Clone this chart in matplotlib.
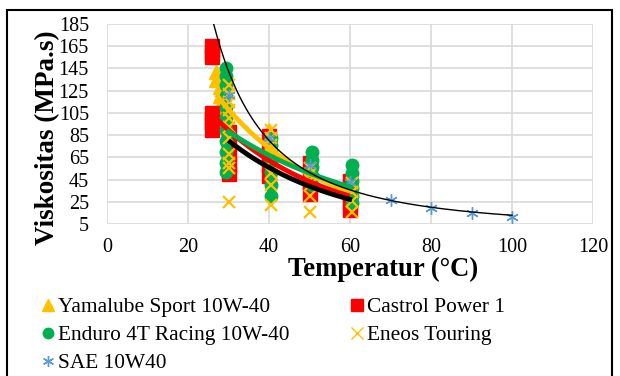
import numpy as np
import matplotlib.pyplot as plt
from matplotlib.lines import Line2D
from matplotlib.patches import Rectangle

plt.rcParams['font.family'] = ['Liberation Serif', 'DejaVu Serif']

# Yamalube Sport 10W-40 (segitiga kuning)
yam_t = [27, 27, 28, 28, 28, 29, 29, 30, 40, 40, 40, 40, 40, 50, 50, 50, 50, 60, 60, 60, 60, 60]
yam_v = [142, 135, 128, 120, 112, 104, 96, 88, 90, 82, 75, 68, 60, 62, 55, 48, 42, 46, 40, 34, 28, 24]

# Castrol Power 1 (kotak merah)
cas_t = [26, 26, 26, 26, 26, 26, 26, 30, 30, 30, 30, 30, 40, 40, 40, 40, 40, 50, 50, 50, 50, 60, 60, 60, 60, 60]
cas_v = [165, 160, 155, 105, 100, 95, 90, 88, 78, 68, 58, 50, 84, 76, 68, 58, 48, 60, 52, 42, 32, 44, 38, 32, 24, 18]

# Enduro 4T Racing 10W-40 (lingkaran hijau)
end_t = [29.5] * 11 + [40.5] * 7 + [50.5] * 5 + [60.5] * 6
end_v = [145, 138, 130, 120, 110, 100, 90, 80, 70, 60, 52,
         82, 76, 70, 62, 52, 40, 30,
         70, 63, 56, 48, 40,
         58, 51, 44, 37, 30, 24]

# Eneos Touring (silang kuning)
ene_t = [30] * 11 + [40.5] * 8 + [50] * 6 + [60.5] * 4
ene_v = [130, 122, 115, 108, 100, 92, 82, 68, 60, 55, 25,
         90, 82, 76, 68, 62, 51, 40, 22,
         55, 50, 45, 40, 30, 16,
         42, 34, 26, 16]

# SAE 10W40 (bintang biru)
sae_t = [30, 40, 50, 60, 70, 80, 90, 100]
sae_v = [121, 82, 58, 43, 27, 19.5, 15, 11.5]

yellow = '#FFC000'
red = '#FF0000'
green = '#00B050'
blue = '#5B9BD5'


def exp_trend(t, v, t0, t1):
    # trendline eksponensial: ln(v) = b*t + ln(a)
    b, lna = np.polyfit(np.asarray(t, float), np.log(v), 1)
    tt = np.linspace(t0, t1, 200)
    return tt, np.exp(lna + b * tt)


def pow_trend(t, v, t0, t1):
    # trendline pangkat: ln(v) = b*ln(t) + ln(a)
    b, lna = np.polyfit(np.log(t), np.log(v), 1)
    tt = np.linspace(t0, t1, 200)
    return tt, np.exp(lna) * tt ** b


fig = plt.figure(figsize=(6.2, 3.76), dpi=100)
ax = fig.add_axes([107 / 620, 1 - 224 / 376, 486 / 620, 200 / 376])

ax.plot(yam_t, yam_v, ls='none', marker='^', ms=10, color=yellow, zorder=3)
ax.plot(cas_t, cas_v, ls='none', marker='s', ms=10, color=red, zorder=3)
ax.plot(end_t, end_v, ls='none', marker='o', ms=9, color=green, zorder=3)
ax.plot(ene_t, ene_v, ls='none', marker='x', ms=9, mew=1.6, color=yellow, zorder=3)
ax.plot(sae_t, sae_v, ls='none', marker=(6, 2, 0), ms=9, mew=1, color=blue, zorder=3)

for t, v, c in [(yam_t, yam_v, yellow), (cas_t, cas_v, red),
                (end_t, end_v, green), (ene_t, ene_v, 'black')]:
    tt, vv = exp_trend(t, v, min(t), max(t))
    ax.plot(tt, vv, color=c, lw=3.5, solid_capstyle='butt', zorder=4)

tt, vv = pow_trend(sae_t, sae_v, 20, 100)
ax.plot(tt, vv, color='black', lw=1, zorder=5)

ax.set_xlim(0, 120)
ax.set_ylim(5, 185)
ax.set_xticks(range(0, 121, 20))
ax.set_yticks(range(5, 186, 20))
ax.grid(True, color='#D9D9D9', lw=1.2)
ax.set_axisbelow(True)
for s in ax.spines.values():
    s.set_visible(False)
ax.tick_params(length=0, labelsize=14.5)
ax.tick_params(axis='y', pad=13)
ax.tick_params(axis='x', pad=10)

ax.set_xlabel('Temperatur (°C)', fontsize=19.2, fontweight='bold')
ax.xaxis.set_label_coords(0.568, -0.165)
ax.set_ylabel('Viskositas (MPa.s)', fontsize=19.5, fontweight='bold')
ax.yaxis.set_label_coords(-0.097, 0.43)

handles = [
    Line2D([], [], ls='none', marker='^', ms=9, color=yellow),
    Line2D([], [], ls='none', marker='o', ms=7.5, color=green),
    Line2D([], [], ls='none', marker=(6, 2, 0), ms=8, mew=1, color=blue),
    Line2D([], [], ls='none', marker='s', ms=8.5, color=red),
    Line2D([], [], ls='none', marker='x', ms=9, mew=1, color=yellow),
]
labels = ['Yamalube Sport 10W-40', 'Enduro 4T Racing 10W-40', 'SAE 10W40',
          'Castrol Power 1', 'Eneos Touring']
fig.legend(handles, labels, ncol=2, loc='upper left', bbox_to_anchor=(0.0688, 0.210),
           frameon=False, fontsize=15.4, handlelength=0.5, handletextpad=0.22,
           labelspacing=0.38, columnspacing=2.88, borderpad=0, borderaxespad=0)

fig.patches.append(Rectangle((7 / 620, -0.1), 605 / 620, 1.1 - 10 / 376,
                             transform=fig.transFigure, fill=False, lw=1.5,
                             edgecolor='black'))

fig.savefig('out.png', dpi=100)
